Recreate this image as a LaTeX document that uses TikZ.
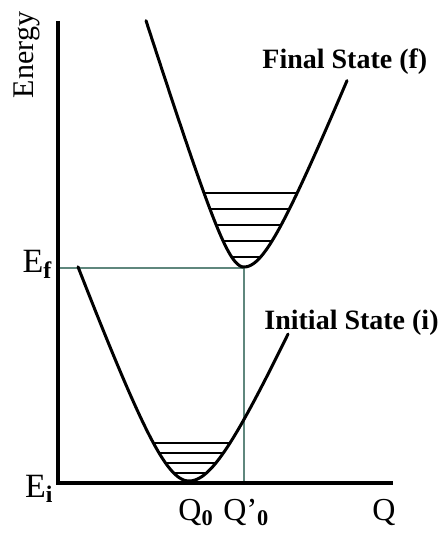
\documentclass[tikz,border=0pt]{standalone}
\usepackage{fontspec}
\setmainfont{Liberation Serif}
\usetikzlibrary{positioning}
\definecolor{guidegreen}{RGB}{95,135,125}

\begin{document}
\begin{tikzpicture}[
  x=0.5pt, y=0.5pt,
  axis/.style={line width=1.8pt, line join=miter},
  well/.style={line width=1.5pt, line join=round, line cap=round},
  level/.style={line width=1.4pt},
  guide/.style={guidegreen, line width=0.6pt},
  elabel/.style={font=\fontsize{17}{18}\selectfont, inner sep=0pt, anchor=base east},
  qlabel/.style={font=\fontsize{16}{18}\selectfont, inner sep=0pt, anchor=base west},
  state/.style={font=\fontsize{14}{16}\selectfont\bfseries, inner sep=0pt, anchor=west}
]
  \useasboundingbox (-58,-51) rectangle (384,483);

  % guide lines
  \draw[guide] (0,215) -- (186,215) -- (186,0);

  % axes
  \draw[axis] (0,462) -- (0,0) -- (335,0);

  % final state well
  \draw[well] plot[domain=88:186, samples=60] (\x, {216+3.15*(sqrt((\x-186)^2+497)-22.3)})
    -- plot[domain=186:289, samples=60] (\x, {216+2.45*(sqrt((\x-186)^2+1005)-31.7)});
  \begin{scope}
    \clip plot[domain=88:186, samples=60] (\x, {216+3.15*(sqrt((\x-186)^2+497)-22.3)})
      -- plot[domain=186:289, samples=60] (\x, {216+2.45*(sqrt((\x-186)^2+1005)-31.7)}) -- cycle;
    \foreach \lev in {226,242,258,274,290}
      \draw[level] (60,\lev) -- (320,\lev);
  \end{scope}

  % initial state well
  \draw[well] plot[domain=20:131, samples=60] (\x, {2+2.7*(sqrt((\x-131)^2+1444)-38)})
    -- plot[domain=131:230, samples=60] (\x, {2+2.2*(sqrt((\x-131)^2+1600)-40)});
  \begin{scope}
    \clip plot[domain=20:131, samples=60] (\x, {2+2.7*(sqrt((\x-131)^2+1444)-38)})
      -- plot[domain=131:230, samples=60] (\x, {2+2.2*(sqrt((\x-131)^2+1600)-40)}) -- cycle;
    \foreach \lev in {10,20,30,40}
      \draw[level] (0,\lev) -- (260,\lev);
  \end{scope}

  \node[rotate=90, font=\fontsize{15}{18}\selectfont, inner sep=0pt] (energy) at (-31,428) {Energy};
  \node[elabel] (ef) at (-5,210) {E\textsubscript{\textbf{f}}};
  \node[elabel] (ei) at (-4,-14) {E\textsubscript{\textbf{i}}};
  \node[qlabel] (q0) at (120,-37) {Q\textsubscript{\textbf{0}}};
  \node[qlabel] (q0p) at (165,-37) {Q'\textsubscript{\textbf{0}}};
  \node[qlabel] (q) at (314,-37) {Q};
  \node[state] (final) at (204,421) {Final State (f)};
  \node[state] (initial) at (206,160) {Initial State (i)};
\end{tikzpicture}
\end{document}
